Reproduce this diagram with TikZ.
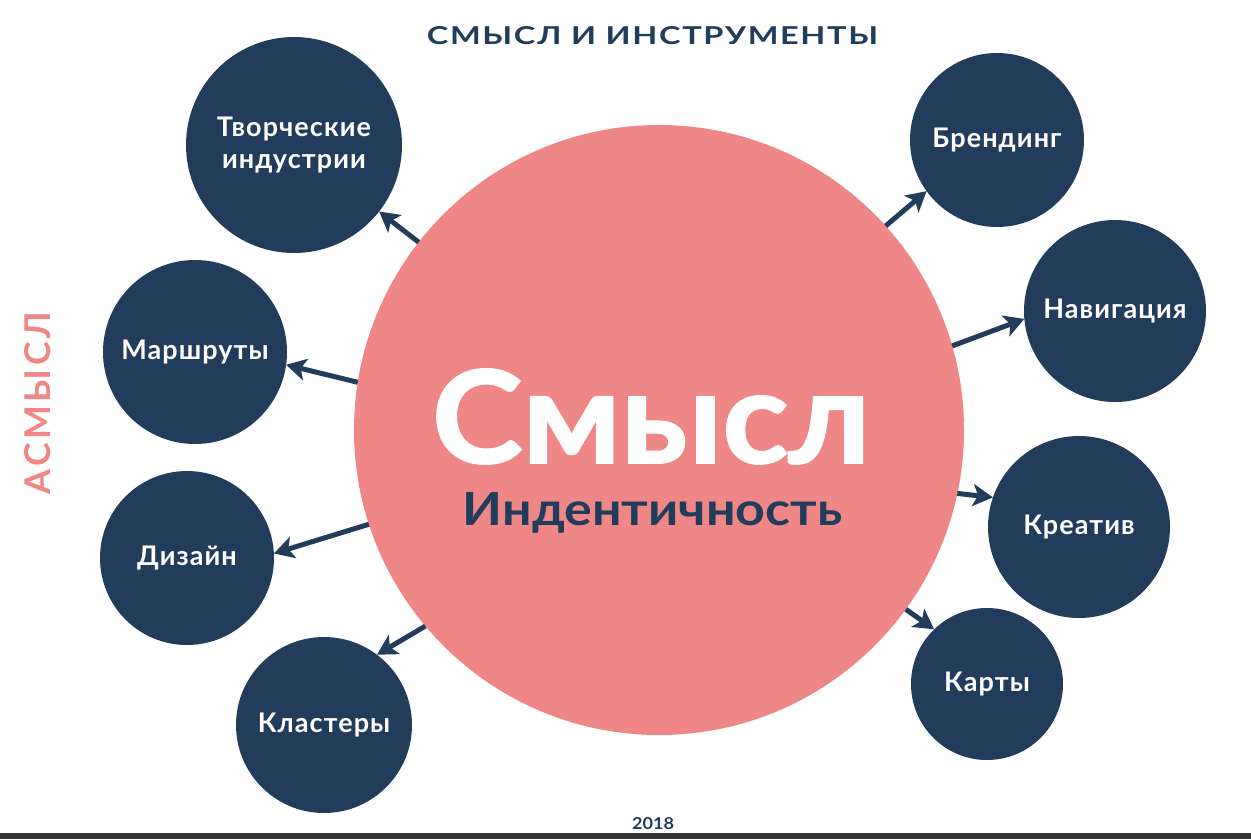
\documentclass[tikz,border=0pt]{standalone}
\usepackage{fontspec}
\setmainfont{Lato}
\usetikzlibrary{arrows.meta}
\definecolor{pinkc}{HTML}{F08787}
\definecolor{navy}{HTML}{223D5C}
\definecolor{barc}{HTML}{353535}
\tikzset{
  bigc/.style={circle, fill=pinkc, inner sep=0pt, outer sep=0pt, minimum size=610pt},
  toolc/.style={circle, fill=navy, inner sep=0pt, outer sep=0pt, text=white,
    font=\fontsize{27}{32}\selectfont\bfseries\addfontfeature{LetterSpace=4}, align=center},
  arr/.style={draw=navy, line width=5pt, -{Stealth[length=20pt,width=22pt,inset=5pt]}},
  txt/.style={inner sep=0pt, outer sep=0pt},
}
\begin{document}
\begin{tikzpicture}[x=1pt,y=-1pt]
\useasboundingbox (0,0) rectangle (1251,839);
\fill[white] (0,0) rectangle (1251,839);
% title
\node[txt, text=navy, anchor=base] (title) at (652.5,44)
  {\resizebox{451pt}{18pt}{\bfseries\addfontfeature{LetterSpace=5}СМЫСЛ И ИНСТРУМЕНТЫ}};
% vertical word
\node[txt, text=pinkc, rotate=90] (side) at (38,403)
  {\resizebox{183pt}{26pt}{\bfseries\addfontfeature{LetterSpace=10}АСМЫСЛ}};
% central circle
\node[bigc] (big) at (659,430) {};
\node[txt, text=white, anchor=base] (smysl) at (651,463)
  {\resizebox{438pt}{94pt}{\bfseries\addfontfeature{FakeBold=1.5}Смысл}};
\node[txt, text=navy, anchor=base] (ident) at (652.5,525)
  {\resizebox{379pt}{33pt}{\bfseries Индентичность}};
% tool circles
\node[toolc, minimum size=216pt] (tvor) at (294,145) {Творческие\\индустрии};
\node[toolc, minimum size=184pt] (marsh) at (195,352) {Маршруты};
\node[toolc, minimum size=174pt] (diz) at (187,558) {Дизайн};
\node[toolc, minimum size=176pt] (klas) at (324,725) {Кластеры};
\node[toolc, minimum size=174pt] (brend) at (997,140) {Брендинг};
\node[toolc, minimum size=182pt] (navi) at (1115,311) {Навигация};
\node[toolc, minimum size=182pt] (kreat) at (1079,527) {Креатив};
\node[toolc, minimum size=152pt] (karty) at (987,684) {Карты};
% arrows
\draw[arr] (big.142.5) -- (tvor.-38.9);
\draw[arr] (big.171.1) -- (marsh.-8);
\draw[arr] (big.198.4) -- (diz.3.3);
\draw[arr] (big.220.9) -- (klas.53.6);
\draw[arr] (big.42.6) -- (brend.216.6);
\draw[arr] (big.16.6) -- (navi.185);
\draw[arr] (big.-12.5) -- (kreat.161.6);
\draw[arr] (big.-36.6) -- (karty.134);
% footer
\fill[barc] (0,833) rectangle (1251,839);
\node[txt, text=navy, anchor=base] (year) at (653,829)
  {\resizebox{42pt}{12pt}{\bfseries 2018}};
\end{tikzpicture}
\end{document}
